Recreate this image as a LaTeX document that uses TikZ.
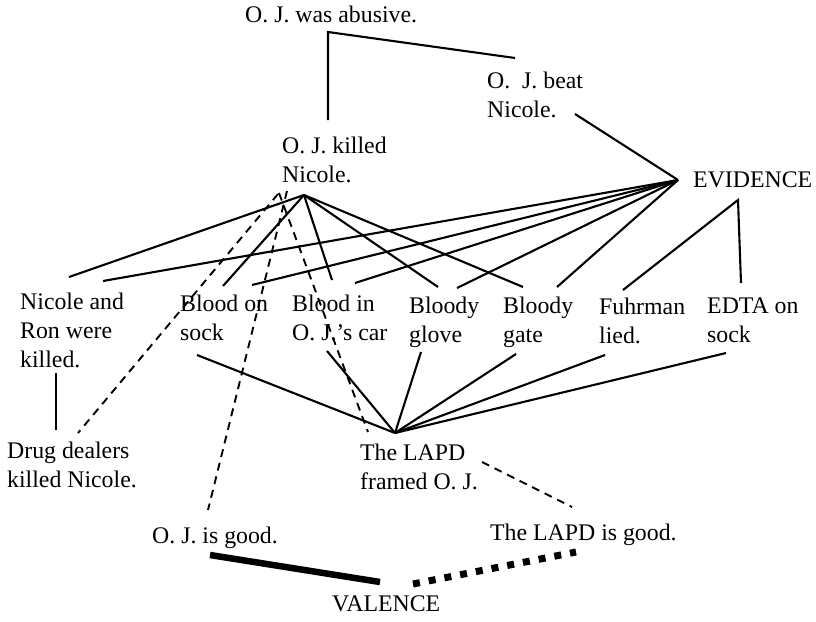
\documentclass[tikz,border=0pt]{standalone}
\usepackage{fontspec}
\setmainfont{Liberation Serif}
\begin{document}
\begin{tikzpicture}[x=1pt,y=-1pt,
  lbl/.style={anchor=north west,inner sep=0pt,align=left,font=\fontsize{23.8}{29}\selectfont},
  link/.style={line width=2.1pt},
  neg/.style={line width=1.9pt,dash pattern=on 8pt off 6pt},
  posval/.style={line width=6.5pt},
  negval/.style={line width=7pt,dash pattern=on 7pt off 9pt}]
\useasboundingbox (0,0) rectangle (816,621);
% text nodes
\node[lbl] (abusive) at (245,6) {O. J. was abusive.};
\node[lbl] (beat) at (487,72) {O.\ \ J. beat\\Nicole.};
\node[lbl] (killed) at (282,137) {O. J. killed\\Nicole.};
\node[lbl] (evidence) at (693,172) {EVIDENCE};
\node[lbl] (nicron) at (20,293) {Nicole and\\Ron were\\killed.};
\node[lbl] (sock) at (180,295) {Blood on\\sock};
\node[lbl] (car) at (292,295) {Blood in\\O. J.'s car};
\node[lbl] (glove) at (409,297) {Bloody\\glove};
\node[lbl] (gate) at (503,297) {Bloody\\gate};
\node[lbl] (fuhrman) at (599,298) {Fuhrman\\lied.};
\node[lbl] (edta) at (707,298) {EDTA on\\sock};
\node[lbl] (drug) at (7,442) {Drug dealers\\killed Nicole.};
\node[lbl] (framed) at (360,444) {The LAPD\\framed O. J.};
\node[lbl] (ojgood) at (152,527) {O. J. is good.};
\node[lbl] (lapdgood) at (490,524) {The LAPD is good.};
\node[lbl] (valence) at (332,596) {VALENCE};
% hubs and ports
\coordinate (aH) at (328,32);
\coordinate (kTop) at (328,120);
\coordinate (bTop) at (515,58);
\coordinate (kH) at (304,195);
\coordinate (eH) at (678,180);
\coordinate (bBot) at (575,114);
\coordinate (fH) at (738,200);
\coordinate (lH) at (395,433);
\coordinate (nicT1) at (69,277);
\coordinate (nicT2) at (103,281);
\coordinate (sockT1) at (223,286);
\coordinate (sockT2) at (252,285);
\coordinate (carT1) at (332,280);
\coordinate (carT2) at (355,283);
\coordinate (gloveT1) at (438,287);
\coordinate (gloveT2) at (457,288);
\coordinate (gateT1) at (523,287);
\coordinate (gateT2) at (557,287);
\coordinate (fuhT) at (623,290);
\coordinate (edtaT) at (741,283);
\coordinate (sockB) at (197,355);
\coordinate (carB) at (327,351);
\coordinate (gloveB) at (421,352);
\coordinate (gateB) at (516,354);
\coordinate (fuhB) at (605,355);
\coordinate (edtaB) at (726,353);
\coordinate (nicB) at (56,373);
\coordinate (drugT) at (56,430);
\coordinate (kD1) at (278,194);
\coordinate (kD2) at (287,191);
\coordinate (kD3) at (279,193);
\coordinate (drugD) at (78,433);
\coordinate (ojgT) at (208,510);
\coordinate (frT) at (368,432);
\coordinate (frR) at (482,462);
\coordinate (lgT) at (572,507);
\coordinate (ojgB) at (210,555);
\coordinate (valL) at (380,582);
\coordinate (valR) at (413,584);
\coordinate (lgB) at (576,552);
% abusive
\draw[link] (kTop) -- (aH) -- (bTop);
% O.J. killed Nicole
\foreach \p in {nicT1,sockT1,carT1,gloveT1,gateT1} \draw[link] (kH) -- (\p);
% EVIDENCE
\foreach \p in {bBot,nicT2,sockT2,carT2,gloveT2,gateT2} \draw[link] (eH) -- (\p);
\draw[link] (fuhT) -- (fH) -- (edtaT);
% LAPD framed
\foreach \p in {sockB,carB,gloveB,gateB,fuhB,edtaB} \draw[link] (lH) -- (\p);
\draw[link] (nicB) -- (drugT);
% negative links
\draw[neg] (kD1) -- (drugD);
\draw[neg] (kD2) -- (ojgT);
\draw[neg] (kD3) -- (frT);
\draw[neg] (frR) -- (lgT);
% valence
\draw[posval] (ojgB) -- (valL);
\draw[negval] (valR) -- (lgB);
\end{tikzpicture}
\end{document}
